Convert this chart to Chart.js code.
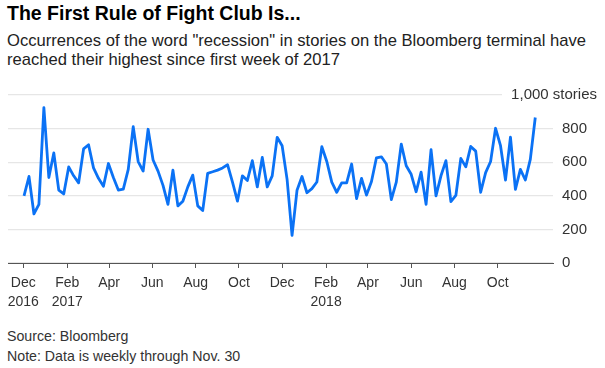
<!DOCTYPE html>
<html>
<head>
<meta charset="utf-8">
<script src="https://cdn.jsdelivr.net/npm/chart.js@4"></script>
<style>
  body { margin: 0; background: #fff; font-family: "Liberation Sans", Arial, sans-serif; }
  .wrap { position: relative; width: 605px; height: 368px; overflow: hidden; }
  .txt { position: absolute; left: 7px; white-space: nowrap; }
  #title { top: 4px; font-size: 19.5px; line-height: 19.5px; font-weight: bold; color: #000; }
  #sub { top: 31px; font-size: 16.6px; line-height: 19px; color: #222; }
  #foot { top: 326px; font-size: 14.2px; line-height: 20px; color: #333; }
  #chart { position: absolute; left: 0; top: 77px; }
</style>
</head>
<body>
<div class="wrap">
  <div class="txt" id="title">The First Rule of Fight Club Is...</div>
  <div class="txt" id="sub">Occurrences of the word "recession" in stories on the Bloomberg terminal have<br>reached their highest since first week of 2017</div>
  <canvas id="chart" width="605" height="236"></canvas>
  <div class="txt" id="foot">Source: Bloomberg<br>Note: Data is weekly through Nov. 30</div>
</div>
<script>
// weekly counts, first week ending Dec 2 2016
const firstWeek = '2016-12-02';
const weekValues = [
  400, 515, 292, 349, 925, 509, 655, 434, 411, 572, 519, 477, 679, 704, 566, 504, 457, 592,
  509, 434, 440, 557, 811, 604, 547, 796, 613, 547, 462, 349, 553, 340, 368, 453, 523,
  340, 312, 534, 543, 553, 566, 585, 481, 368, 519, 491, 609, 453, 628, 453, 519, 748,
  698, 498, 165, 433, 515, 418, 443, 482, 692, 604, 481, 421, 477, 477, 589, 383, 504,
  404, 485, 626, 632, 589, 377, 481, 708, 579, 528, 424, 541, 349, 674, 400, 519, 609,
  365, 402, 623, 572, 694, 666, 421, 538, 604, 802, 698, 494, 749, 438, 557, 494, 617, 866
];
const tickDates = ['2016-12-01', '2017-02-01', '2017-04-01', '2017-06-01', '2017-08-01', '2017-10-01',
  '2017-12-01', '2018-02-01', '2018-04-01', '2018-06-01', '2018-08-01', '2018-10-01'];
const tickLabels = [['Dec', '2016'], ['Feb', '2017'], 'Apr', 'Jun', 'Aug', 'Oct',
  'Dec', ['Feb', '2018'], 'Apr', 'Jun', 'Aug', 'Oct'];
const yMax = 1000;
const yUnit = '1,000 stories';

const DAY = 86400000;
const t0 = Date.parse(firstWeek);
const dayOf = d => (Date.parse(d) - t0) / DAY;

const storiesLabel = {
  id: 'storiesLabel',
  beforeDatasetsDraw(chart) {
    const { ctx, chartArea, scales } = chart;
    const y = scales.y.getPixelForValue(yMax);
    ctx.save();
    ctx.fillStyle = '#fff';
    ctx.fillRect(502, y - 3, chartArea.right - 502 + 1, 6);
    ctx.restore();
  },
  afterDraw(chart) {
    const { ctx, scales } = chart;
    const y = scales.y.getPixelForValue(yMax);
    ctx.save();
    ctx.font = '15px "Liberation Sans", Arial, sans-serif';
    ctx.fillStyle = '#333';
    ctx.textAlign = 'right';
    ctx.textBaseline = 'middle';
    ctx.fillText(yUnit, 597, y);
    ctx.restore();
  }
};

new Chart(document.getElementById('chart'), {
  type: 'line',
  data: {
    datasets: [{
      data: weekValues.map((v, i) => ({ x: i * 7, y: v })),
      borderColor: '#0b72f5',
      borderWidth: 2.8,
      pointRadius: 0,
      tension: 0,
      borderJoinStyle: 'round',
      fill: false
    }]
  },
  options: {
    responsive: false,
    animation: false,
    layout: { padding: { left: 8, top: 12, right: 0, bottom: 0 } },
    plugins: { legend: { display: false }, tooltip: { enabled: false } },
    scales: {
      x: {
        type: 'linear',
        min: -22.6,
        max: 746,
        afterBuildTicks: s => { s.ticks = tickDates.map(d => ({ value: dayOf(d) })); },
        afterFit: s => { s.height = 50; },
        grid: { drawOnChartArea: false, drawTicks: true, tickLength: 5, color: '#555' },
        border: { display: true, color: '#555', width: 1 },
        ticks: {
          autoSkip: false,
          maxRotation: 0,
          padding: 6,
          color: '#333',
          font: { family: '"Liberation Sans", Arial, sans-serif', size: 14, lineHeight: 1.36 },
          callback: (v, i) => tickLabels[i]
        }
      },
      y: {
        position: 'right',
        min: 0,
        max: yMax,
        afterFit: s => { s.width = 52; },
        grid: { drawTicks: false, color: '#e6e6e6', lineWidth: 1.3 },
        border: { display: false },
        ticks: {
          stepSize: 200,
          padding: 9,
          color: '#333',
          font: { family: '"Liberation Sans", Arial, sans-serif', size: 15 },
          callback: v => (v === yMax ? '' : v)
        }
      }
    }
  },
  plugins: [storiesLabel]
});
</script>
</body>
</html>
